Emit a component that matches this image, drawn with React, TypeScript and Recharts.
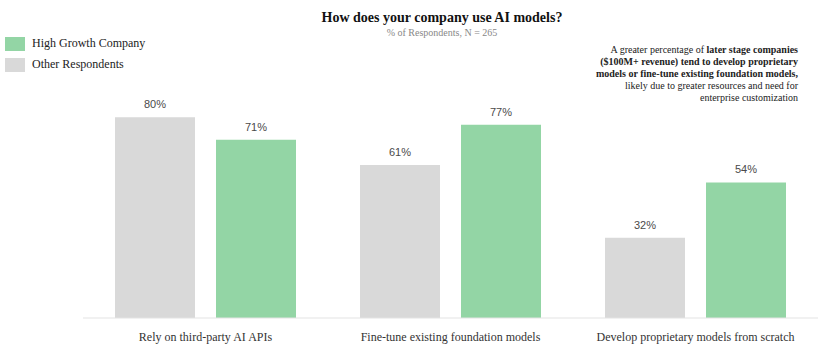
import { BarChart, Bar, XAxis, YAxis, LabelList } from 'recharts';

document.body.style.margin = '0';

const categories = [
  'Rely on third-party AI APIs',
  'Fine-tune existing foundation models',
  'Develop proprietary models from scratch',
];
const otherRespondents = [80, 61, 32];
const highGrowth = [71, 77, 54];

const SERIF = '"Liberation Serif", "DejaVu Serif", serif';
const SANS = '"Liberation Sans", Arial, sans-serif';
const GREEN = '#93d5a5';
const GRAY = '#d9d9d9';

const data = categories.map((name, i) => ({
  name,
  other: otherRespondents[i],
  high: highGrowth[i],
}));

const legendItems = [
  { label: 'High Growth Company', color: GREEN },
  { label: 'Other Respondents', color: GRAY },
];

const pct = (v: any) => `${v}%`;

export default function App() {
  return (
    <div style={{ position: 'relative', width: 832, height: 360, background: '#fff' }}>
      <BarChart
        width={832}
        height={360}
        data={data}
        margin={{ top: 67, right: 14, bottom: 12, left: 83 }}
        barSize={80}
        barGap={21}
      >
        <XAxis
          dataKey="name"
          tickLine={false}
          axisLine={{ stroke: '#e3e3e3' }}
          tickMargin={8}
          height={30}
          tick={{ fill: '#333', fontSize: 12, fontFamily: SERIF }}
        />
        <YAxis hide domain={[0, 100]} width={0} />
        <Bar dataKey="other" fill={GRAY} isAnimationActive={false}>
          <LabelList dataKey="other" position="top" offset={9} formatter={pct} fill="#4a4a4a" fontSize={11} fontFamily={SANS} />
        </Bar>
        <Bar dataKey="high" fill={GREEN} isAnimationActive={false}>
          <LabelList dataKey="high" position="top" offset={9} formatter={pct} fill="#4a4a4a" fontSize={11} fontFamily={SANS} />
        </Bar>
      </BarChart>

      {/* legend */}
      <div style={{ position: 'absolute', top: 33, left: 5, fontFamily: SERIF, fontSize: 12, color: '#222' }}>
        {legendItems.map((it) => (
          <div key={it.label} style={{ display: 'flex', alignItems: 'center', height: 21 }}>
            <span style={{ width: 20, height: 14, background: it.color, display: 'inline-block', marginRight: 7 }} />
            {it.label}
          </div>
        ))}
      </div>

      <div style={{ position: 'absolute', top: 10, left: 0, width: 884, textAlign: 'center', fontFamily: SERIF }}>
        <div style={{ fontSize: 14, fontWeight: 'bold', color: '#111' }}>How does your company use AI models?</div>
        <div style={{ fontSize: 10, color: '#888', marginTop: 1 }}>% of Respondents, N = 265</div>
      </div>

      <div
        style={{
          position: 'absolute',
          top: 44,
          right: 34,
          textAlign: 'right',
          fontFamily: SERIF,
          fontSize: 10,
          lineHeight: '12px',
          color: '#222',
        }}
      >
        A greater percentage of <b>later stage companies</b>
        <br />
        <b>($100M+ revenue) tend to develop proprietary</b>
        <br />
        <b>models or fine-tune existing foundation models,</b>
        <br />
        likely due to greater resources and need for
        <br />
        enterprise customization
      </div>
    </div>
  );
}
